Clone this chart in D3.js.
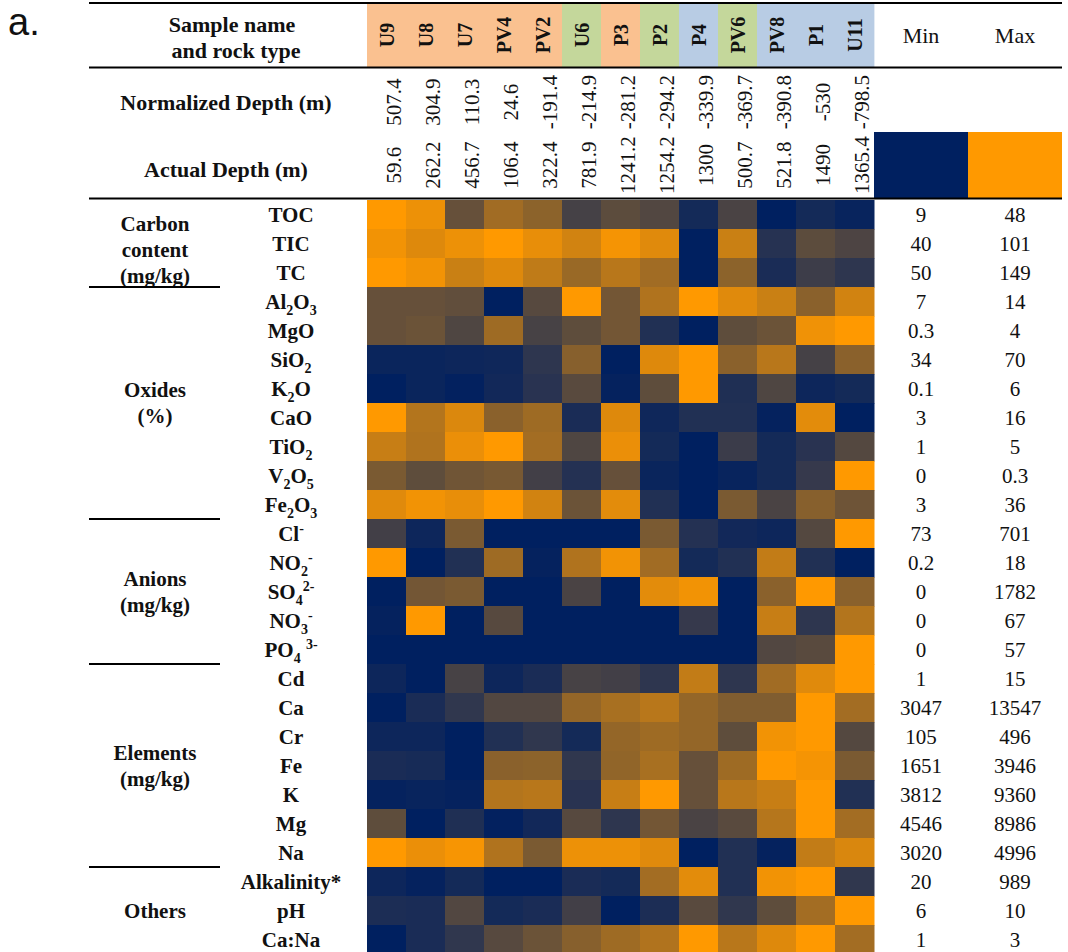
<!DOCTYPE html>
<html>
<head>
<meta charset="utf-8">
<script src="https://cdn.jsdelivr.net/npm/d3@7"></script>
<style>
  html, body { margin: 0; padding: 0; background: #fff; }
  svg { display: block; }
  text { font-family: "Liberation Serif", "Times New Roman", serif; fill: #111; }
</style>
</head>
<body>
<script>
// Samples (columns) and the rock-type group each belongs to
const samples = ["U9", "U8", "U7", "PV4", "PV2", "U6", "P3", "P2", "P4", "PV6", "PV8", "P1", "U11"];
const rockGroup = ["A", "A", "A", "A", "A", "B", "A", "B", "C", "B", "C", "C", "C"];
const normDepth = ["507.4", "304.9", "110.3", "24.6", "-191.4", "-214.9", "-281.2", "-294.2", "-339.9", "-369.7", "-390.8", "-530", "-798.5"];
const actualDepth = ["59.6", "262.2", "456.7", "106.4", "322.4", "781.9", "1241.2", "1254.2", "1300", "500.7", "521.8", "1490", "1365.4"];

// Parameter groups (left column) and the number of parameters in each
const groupNames = [["Carbon", "content", "(mg/kg)"], ["Oxides", "(%)"], ["Anions", "(mg/kg)"], ["Elements", "(mg/kg)"], ["Others"]];
const groupSizes = [3, 8, 5, 7, 3];

// Parameters: {x} = subscript, [x] = superscript
const params = ["TOC", "TIC", "TC",
  "Al{2}O{3}", "MgO", "SiO{2}", "K{2}O", "CaO", "TiO{2}", "V{2}O{5}", "Fe{2}O{3}",
  "Cl[-]", "NO{2}[-]", "SO{4}[2-]", "NO{3}[-]", "PO{4} [3-]",
  "Cd", "Ca", "Cr", "Fe", "K", "Mg", "Na",
  "Alkalinity*", "pH", "Ca:Na"];
const minVals = ["9", "40", "50", "7", "0.3", "34", "0.1", "3", "1", "0", "3", "73", "0.2", "0", "0", "0", "1", "3047", "105", "1651", "3812", "4546", "3020", "20", "6", "1"];
const maxVals = ["48", "101", "149", "14", "4", "70", "6", "16", "5", "0.3", "36", "701", "18", "1782", "67", "57", "15", "13547", "496", "3946", "9360", "8986", "4996", "989", "10", "3"];

// Scaled values (0 = row minimum, 1 = row maximum), one row per parameter
const scaled = [
  [1.00, 0.93, 0.40, 0.63, 0.55, 0.27, 0.36, 0.32, 0.08, 0.29, 0.00, 0.08, 0.03],
  [0.95, 0.87, 0.93, 1.00, 0.91, 0.82, 0.96, 0.88, 0.00, 0.79, 0.15, 0.36, 0.30],
  [1.00, 0.95, 0.79, 0.87, 0.75, 0.60, 0.72, 0.63, 0.00, 0.55, 0.10, 0.24, 0.18],
  [0.40, 0.40, 0.38, 0.00, 0.34, 1.00, 0.45, 0.69, 1.00, 0.88, 0.79, 0.54, 0.82],
  [0.40, 0.42, 0.31, 0.62, 0.28, 0.37, 0.45, 0.13, 0.00, 0.37, 0.42, 0.94, 1.00],
  [0.04, 0.04, 0.05, 0.06, 0.18, 0.53, 0.00, 0.87, 1.00, 0.54, 0.72, 0.27, 0.54],
  [0.00, 0.04, 0.01, 0.07, 0.16, 0.35, 0.02, 0.37, 1.00, 0.12, 0.31, 0.05, 0.08],
  [1.00, 0.70, 0.86, 0.54, 0.62, 0.10, 0.87, 0.06, 0.13, 0.13, 0.02, 0.89, 0.00],
  [0.78, 0.69, 0.92, 1.00, 0.64, 0.31, 0.92, 0.08, 0.00, 0.23, 0.08, 0.16, 0.33],
  [0.48, 0.37, 0.44, 0.47, 0.26, 0.14, 0.40, 0.04, 0.00, 0.03, 0.08, 0.21, 1.00],
  [0.88, 0.95, 0.91, 1.00, 0.82, 0.42, 0.89, 0.13, 0.00, 0.48, 0.29, 0.53, 0.43],
  [0.26, 0.05, 0.48, 0.00, 0.00, 0.00, 0.00, 0.48, 0.14, 0.07, 0.05, 0.33, 1.00],
  [1.00, 0.00, 0.13, 0.62, 0.02, 0.69, 0.95, 0.63, 0.08, 0.13, 0.76, 0.13, 0.00],
  [0.00, 0.45, 0.48, 0.00, 0.00, 0.29, 0.00, 0.89, 0.95, 0.00, 0.54, 1.00, 0.54],
  [0.02, 1.00, 0.00, 0.34, 0.00, 0.00, 0.00, 0.00, 0.21, 0.00, 0.78, 0.18, 0.70],
  [0.00, 0.00, 0.00, 0.00, 0.00, 0.00, 0.00, 0.00, 0.00, 0.00, 0.32, 0.35, 1.00],
  [0.05, 0.00, 0.28, 0.05, 0.10, 0.28, 0.26, 0.18, 0.76, 0.18, 0.63, 0.88, 1.00],
  [0.00, 0.10, 0.19, 0.32, 0.32, 0.58, 0.66, 0.72, 0.58, 0.50, 0.50, 1.00, 0.64],
  [0.05, 0.05, 0.00, 0.13, 0.19, 0.08, 0.58, 0.62, 0.58, 0.37, 0.95, 1.00, 0.33],
  [0.10, 0.09, 0.00, 0.54, 0.55, 0.19, 0.57, 0.66, 0.40, 0.62, 1.00, 0.96, 0.48],
  [0.02, 0.03, 0.02, 0.70, 0.72, 0.16, 0.78, 1.00, 0.40, 0.72, 0.78, 1.00, 0.13],
  [0.37, 0.00, 0.12, 0.01, 0.07, 0.34, 0.18, 0.45, 0.29, 0.35, 0.71, 1.00, 0.64],
  [1.00, 0.92, 0.97, 0.69, 0.48, 0.93, 0.93, 0.88, 0.00, 0.13, 0.02, 0.76, 0.85],
  [0.05, 0.02, 0.08, 0.00, 0.00, 0.10, 0.08, 0.64, 0.89, 0.13, 0.95, 1.00, 0.19],
  [0.11, 0.10, 0.32, 0.08, 0.10, 0.26, 0.00, 0.11, 0.35, 0.19, 0.37, 0.64, 1.00],
  [0.00, 0.10, 0.19, 0.34, 0.42, 0.53, 0.62, 0.69, 1.00, 0.72, 0.87, 1.00, 0.64]
];

const groupFill = { A: "#FAC190", B: "#C4D79B", C: "#B8CCE4" };
const lowColor = "#002060", highColor = "#FF9900";

const W = 1068, H = 952;
const svg = d3.select("body").append("svg").attr("width", W).attr("height", H);

const x = d3.scaleBand().domain(samples).range([367, 874]);
const y = d3.scaleBand().domain(d3.range(params.length)).range([200, 954]);
const color = d3.scaleLinear().domain([0, 1]).range([lowColor, highColor]).interpolate(d3.interpolateRgb);
const bw = x.bandwidth(), bh = y.bandwidth();

// Panel letter
svg.append("text").attr("x", 8).attr("y", 35)
  .style("font-family", "'Liberation Sans', Arial, sans-serif")
  .style("font-size", "38px").text("a.");

// Header: sample names on rock-type colours
svg.append("g").selectAll("rect").data(samples).join("rect")
  .attr("x", d => x(d)).attr("y", 4).attr("width", bw + 0.4).attr("height", 63)
  .attr("fill", (d, i) => groupFill[rockGroup[i]]);

svg.append("g").selectAll("text").data(samples).join("text")
  .attr("transform", d => `translate(${x(d) + bw / 2},35) rotate(-90)`)
  .attr("text-anchor", "middle").attr("dominant-baseline", "central")
  .style("font-weight", "bold").style("font-size", "20px").text(d => d);

const hdr = svg.append("g").style("font-weight", "bold").style("font-size", "22px").attr("text-anchor", "middle");
hdr.append("text").attr("x", 232).attr("y", 32).text("Sample name");
hdr.append("text").attr("x", 236).attr("y", 58).text("and rock type");
hdr.append("text").attr("x", 226).attr("y", 110).text("Normalized Depth (m)");
hdr.append("text").attr("x", 226).attr("y", 177).text("Actual Depth (m)");

// Depth rows
const depthRow = (vals, cy) => svg.append("g").selectAll("text").data(vals).join("text")
  .attr("transform", (d, i) => `translate(${x(samples[i]) + bw - 5},${cy}) rotate(-90)`)
  .attr("text-anchor", "middle").style("font-size", "21px").text(d => d);
depthRow(normDepth, 102);
depthRow(actualDepth, 165);

// Min / Max header
const mmX = [874, 968, 1062];
svg.append("rect").attr("x", mmX[0]).attr("y", 132).attr("width", mmX[1] - mmX[0]).attr("height", 66).attr("fill", lowColor);
svg.append("rect").attr("x", mmX[1]).attr("y", 132).attr("width", mmX[2] - mmX[1]).attr("height", 66).attr("fill", highColor);
const minX = (mmX[0] + mmX[1]) / 2, maxX = (mmX[1] + mmX[2]) / 2;
svg.append("text").attr("x", minX).attr("y", 43).attr("text-anchor", "middle").style("font-size", "22px").text("Min");
svg.append("text").attr("x", maxX).attr("y", 43).attr("text-anchor", "middle").style("font-size", "22px").text("Max");

// Heatmap cells
const cells = [];
scaled.forEach((row, r) => row.forEach((v, c) => cells.push({ r, c, v })));
svg.append("g").selectAll("rect").data(cells).join("rect")
  .attr("x", d => x(samples[d.c])).attr("y", d => y(d.r))
  .attr("width", bw + 0.5).attr("height", bh + 0.5)
  .attr("fill", d => color(d.v));

// Row labels with sub/superscripts
function richLabel(sel, str) {
  const parts = str.match(/\{[^}]*\}|\[[^\]]*\]|[^{\[]+/g);
  let shift = 0;
  parts.forEach(p => {
    let txt = p, target = 0, size = null;
    if (p[0] === "{") { txt = p.slice(1, -1); target = 6; size = "14px"; }
    else if (p[0] === "[") { txt = p.slice(1, -1); target = -8; size = "14px"; }
    const t = sel.append("tspan").attr("dy", target - shift).text(txt);
    if (size) t.style("font-size", size);
    shift = target;
  });
}
const rowLab = svg.append("g").style("font-weight", "bold").style("font-size", "21px");
params.forEach((p, r) => {
  const t = rowLab.append("text").attr("x", 291).attr("y", y(r) + bh / 2 + 7).attr("text-anchor", "middle");
  richLabel(t, p);
});

// Min and max values per row
const vals = svg.append("g").style("font-size", "21px").attr("text-anchor", "middle");
vals.selectAll(".mn").data(minVals).join("text").attr("class", "mn")
  .attr("x", minX).attr("y", (d, i) => y(i) + bh / 2 + 7).text(d => d);
vals.selectAll(".mx").data(maxVals).join("text").attr("class", "mx")
  .attr("x", maxX).attr("y", (d, i) => y(i) + bh / 2 + 7).text(d => d);

// Group labels and separators
const grp = svg.append("g").style("font-weight", "bold").style("font-size", "21px").attr("text-anchor", "middle");
let start = 0;
groupNames.forEach((lines, g) => {
  const n = groupSizes[g];
  const top = y(start), bottom = y(start) + n * bh;
  // three-line labels sit low so the last line rests on the separator
  const mid = (top + bottom) / 2 + (lines.length > 2 ? 6 : 0);
  const lh = 26;
  lines.forEach((ln, k) => {
    grp.append("text").attr("x", 155)
      .attr("y", mid + 7 + (k - (lines.length - 1) / 2) * lh).text(ln);
  });
  if (g > 0) {
    svg.append("line").attr("x1", 89).attr("x2", 220).attr("y1", top).attr("y2", top)
      .attr("stroke", "#000").attr("stroke-width", 2);
  }
  start += n;
});

// Table rules
[3, 67.5, 198.5].forEach(ly => {
  svg.append("line").attr("x1", 89).attr("x2", mmX[2]).attr("y1", ly).attr("y2", ly)
    .attr("stroke", "#000").attr("stroke-width", 2);
});
</script>
</body>
</html>
